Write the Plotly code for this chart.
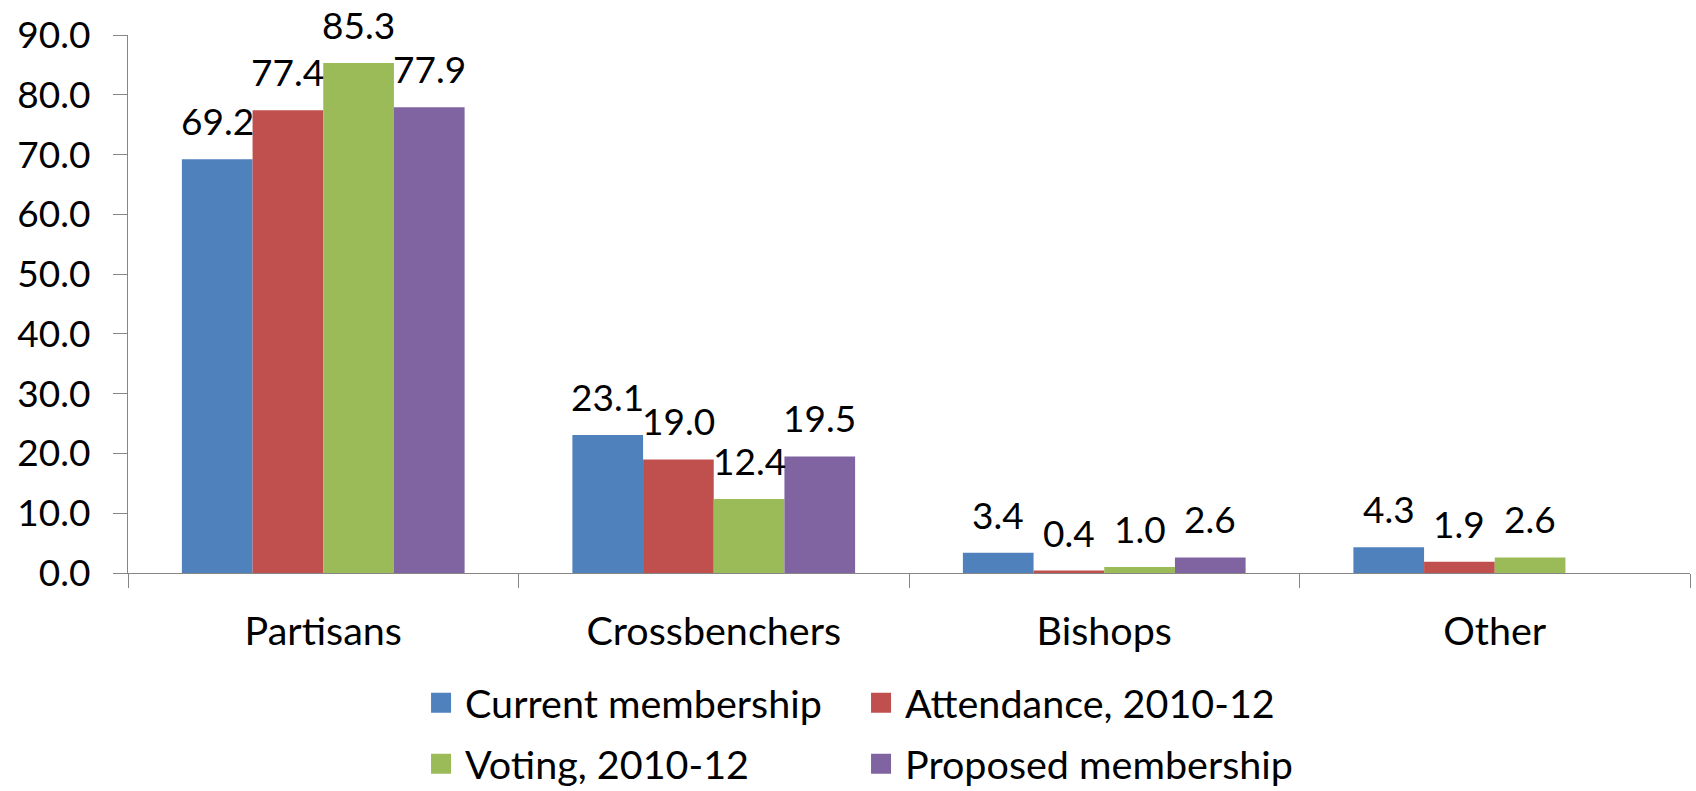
import plotly.graph_objects as go

# Share of members / attendance / votes by group (%)
categories = ["Partisans", "Crossbenchers", "Bishops", "Other"]
series_names = ["Current membership", "Attendance, 2010-12",
                "Voting, 2010-12", "Proposed membership"]
current_membership = [69.2, 23.1, 3.4, 4.3]
attendance = [77.4, 19.0, 0.4, 1.9]
voting = [85.3, 12.4, 1.0, 2.6]
proposed_membership = [77.9, 19.5, 2.6, None]
series_values = [current_membership, attendance, voting, proposed_membership]
colors = ["#4F81BD", "#C0504D", "#9BBB59", "#8064A2"]
y_ticks = [0, 10, 20, 30, 40, 50, 60, 70, 80, 90]

FONT = "Lato"
NUM_FS = 37     # numbers (ticks, value labels)
WORD_FS = 39.5  # category names and legend
AXIS_GREY = "#868686"
BARGAP = 0.276

fig = go.Figure()

n = len(series_values)
slot = (1 - BARGAP) / n
annotations = []
for k, (name, vals, col) in enumerate(zip(series_names, series_values, colors)):
    fig.add_trace(go.Bar(
        x=categories, y=vals, name=name,
        marker=dict(color=col, line=dict(width=0)),
        showlegend=False,
    ))
    # value labels centred over each bar
    for i, v in enumerate(vals):
        if v is None:
            continue
        annotations.append(dict(
            x=i + (k - (n - 1) / 2) * slot, y=v, xref="x", yref="y",
            text=f"{v:.1f}", showarrow=False,
            yanchor="bottom", xanchor="center", yshift=14,
            font=dict(family=FONT, size=NUM_FS, color="black"),
        ))
    # legend entry (square swatch)
    fig.add_trace(go.Scatter(
        x=[None], y=[None], mode="markers", name=name,
        marker=dict(symbol="square", size=24, color=col,
                    line=dict(width=4, color=col)),
        legend="legend" if k < 2 else "legend2",
    ))

legend_common = dict(
    orientation="h", xanchor="left", yanchor="middle",
    xref="container", yref="container",
    font=dict(family=FONT, size=WORD_FS, color="black"),
    entrywidth=387, itemwidth=38, bgcolor="rgba(0,0,0,0)",
    traceorder="normal",
)

fig.update_layout(
    width=1696, height=791,
    margin=dict(l=128, r=6, t=35, b=218, autoexpand=False),
    paper_bgcolor="white", plot_bgcolor="white",
    barmode="group", bargap=BARGAP, bargroupgap=0,
    font=dict(family=FONT, size=NUM_FS, color="black"),
    annotations=annotations,
    legend=dict(x=0.2459, y=0.111, **legend_common),
    legend2=dict(x=0.2459, y=0.034, **legend_common),
    xaxis=dict(
        type="category", tickson="boundaries", ticks="outside", ticklen=14,
        tickcolor=AXIS_GREY, tickwidth=1.3, showline=True, linecolor=AXIS_GREY,
        linewidth=1.3, showgrid=False, ticklabelstandoff=23,
        tickfont=dict(family=FONT, size=WORD_FS, color="black"),
    ),
    yaxis=dict(
        range=[0, 90], tickvals=y_ticks, ticktext=[f"{t:.1f}" for t in y_ticks],
        ticks="outside", ticklen=14, tickcolor=AXIS_GREY, tickwidth=1.3,
        showline=True, linecolor=AXIS_GREY, linewidth=1.3,
        showgrid=False, zeroline=False, ticklabelstandoff=15,
        tickfont=dict(family=FONT, size=NUM_FS, color="black"),
    ),
)

fig.write_html("out.html")
